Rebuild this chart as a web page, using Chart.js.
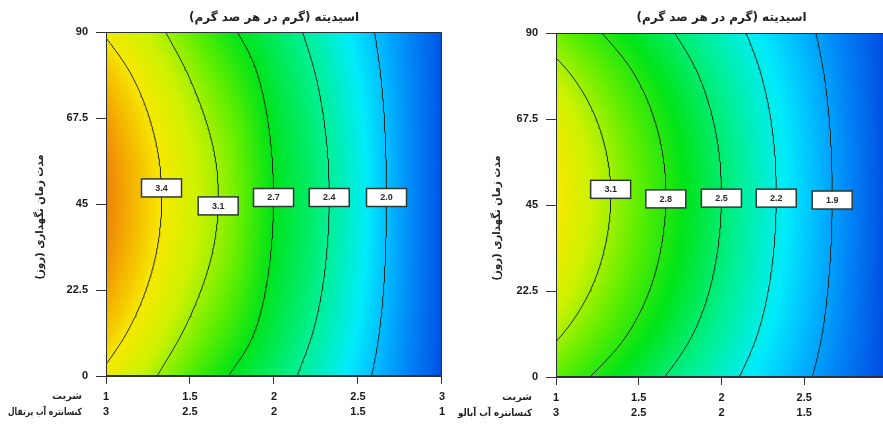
<!DOCTYPE html>
<html lang="fa">
<head>
<meta charset="utf-8">
<script src="https://cdn.jsdelivr.net/npm/chart.js@4/dist/chart.umd.min.js"></script>
<style>
  html, body { margin: 0; padding: 0; background: #fff; overflow: hidden; width: 883px; height: 426px; }
  .panel { position: absolute; top: 0; }
</style>
</head>
<body>
<div class="panel" style="left:0"><canvas id="orange" width="450" height="426" dir="rtl"></canvas></div>
<div class="panel" style="left:450px"><canvas id="cherry" width="445" height="426" dir="rtl"></canvas></div>
<script>
// Surface grid: syrup level (columns) and storage time in days (rows)
const syrupGrid = [1, 1.25, 1.5, 1.75, 2, 2.25, 2.5, 2.75, 3];
const storageDays = [0, 11.25, 22.5, 33.75, 45, 56.25, 67.5, 78.75, 90];

// Acidity (g per 100 g), orange juice concentrate blend
const acidityOrange = [
  [3.360, 3.150, 2.913, 2.682, 2.506, 2.307, 2.074, 1.846, 1.621],
  [3.505, 3.290, 3.057, 2.828, 2.588, 2.382, 2.133, 1.871, 1.625],
  [3.609, 3.389, 3.159, 2.931, 2.647, 2.435, 2.175, 1.889, 1.628],
  [3.674, 3.451, 3.221, 2.995, 2.683, 2.467, 2.200, 1.899, 1.630],
  [3.699, 3.474, 3.245, 3.019, 2.697, 2.480, 2.210, 1.903, 1.631],
  [3.685, 3.461, 3.232, 3.006, 2.689, 2.473, 2.204, 1.901, 1.632],
  [3.626, 3.408, 3.180, 2.951, 2.658, 2.445, 2.182, 1.893, 1.633],
  [3.524, 3.317, 3.090, 2.857, 2.606, 2.398, 2.144, 1.879, 1.634],
  [3.380, 3.190, 2.967, 2.726, 2.534, 2.333, 2.092, 1.861, 1.636]
];

// Acidity (g per 100 g), sour cherry juice concentrate blend
const acidityCherry = [
  [2.936, 2.770, 2.604, 2.438, 2.272, 2.103, 1.933, 1.763, 1.593],
  [3.131, 2.940, 2.749, 2.559, 2.369, 2.175, 1.983, 1.791, 1.597],
  [3.271, 3.063, 2.853, 2.645, 2.438, 2.227, 2.018, 1.810, 1.600],
  [3.359, 3.139, 2.918, 2.699, 2.481, 2.259, 2.040, 1.823, 1.603],
  [3.396, 3.172, 2.946, 2.722, 2.499, 2.272, 2.050, 1.828, 1.605],
  [3.381, 3.158, 2.935, 2.713, 2.492, 2.267, 2.046, 1.826, 1.604],
  [3.307, 3.094, 2.880, 2.668, 2.456, 2.241, 2.028, 1.816, 1.602],
  [3.175, 2.980, 2.784, 2.589, 2.393, 2.194, 1.996, 1.798, 1.599],
  [2.988, 2.818, 2.648, 2.477, 2.304, 2.129, 1.951, 1.773, 1.595]
];

// Contour levels
const levelsOrange = [3.4, 3.1, 2.7, 2.4, 2.0];
const levelsCherry = [3.1, 2.8, 2.5, 2.2, 1.9];

// Tick labels
const syrupTicks = ['1', '1.5', '2', '2.5', '3'];
const concentrateTicks = ['3', '2.5', '2', '1.5', '1'];
const dayTicks = ['0', '22.5', '45', '67.5', '90'];

// Storage day at which each contour value tag sits
const tagDaysOrange = [49.2, 44.5, 46.7, 46.7, 46.7];
const tagDaysCherry = [49.1, 46.6, 46.8, 46.8, 46.3];

// Colour ramp for the shaded surface
const ramp = [
  [1.58, [0, 70, 222]],
  [1.80, [0, 130, 246]],
  [2.00, [0, 192, 255]],
  [2.15, [0, 236, 250]],
  [2.40, [0, 240, 150]],
  [2.70, [0, 228, 24]],
  [2.95, [96, 238, 0]],
  [3.20, [204, 242, 0]],
  [3.40, [246, 232, 0]],
  [3.55, [245, 182, 0]],
  [3.72, [238, 122, 10]]
];

function rampColor(v) {
  if (v <= ramp[0][0]) return ramp[0][1];
  for (let i = 0; i < ramp.length - 1; i++) {
    const [a, ca] = ramp[i], [b, cb] = ramp[i + 1];
    if (v <= b) {
      const t = (v - a) / (b - a);
      return [ca[0] + (cb[0] - ca[0]) * t, ca[1] + (cb[1] - ca[1]) * t, ca[2] + (cb[2] - ca[2]) * t];
    }
  }
  return ramp[ramp.length - 1][1];
}

// Catmull-Rom evaluation of node values on an evenly spaced axis
function smoothAt(axis, vals, v) {
  const n = vals.length;
  const u = Math.max(0, Math.min(n - 1, (v - axis[0]) / (axis[1] - axis[0])));
  let i = Math.floor(u);
  if (i > n - 2) i = n - 2;
  const t = u - i;
  const p1 = vals[i], p2 = vals[i + 1];
  const p0 = i > 0 ? vals[i - 1] : 2 * p1 - p2;
  const p3 = i + 2 < n ? vals[i + 2] : 2 * p2 - p1;
  return 0.5 * (2 * p1 + (p2 - p0) * t + (2 * p0 - 5 * p1 + 4 * p2 - p3) * t * t + (3 * p1 - p0 - 3 * p2 + p3) * t * t * t);
}

// Surface values of every column at a given storage day
function rowAt(grid, day) {
  return syrupGrid.map((_, c) => smoothAt(storageDays, grid.map(r => r[c]), day));
}

function crossingAt(row, level) {
  for (let c = 0; c < row.length - 1; c++) {
    if ((row[c] - level) * (row[c + 1] - level) <= 0 && row[c] !== row[c + 1]) {
      let lo = syrupGrid[c], hi = syrupGrid[c + 1];
      const sLo = Math.sign(row[c] - level);
      for (let k = 0; k < 30; k++) {
        const mid = (lo + hi) / 2;
        if (Math.sign(smoothAt(syrupGrid, row, mid) - level) === sLo) lo = mid; else hi = mid;
      }
      return (lo + hi) / 2;
    }
  }
  return null;
}

// Iso-line of the grid surface, walked along storage days
function traceContour(grid, level) {
  const pts = [];
  let prevEdge = null, prevDay = null;
  for (let k = 0; k <= 180; k++) {
    const day = k * 0.5;
    const row = rowAt(grid, day);
    const edge = row[0];
    if (prevEdge !== null && (prevEdge - level) * (edge - level) < 0) {
      const t = (prevEdge - level) / (prevEdge - edge);
      pts.push({ x: syrupGrid[0], y: prevDay + t * (day - prevDay) });
    }
    const sx = crossingAt(row, level);
    if (sx !== null) pts.push({ x: sx, y: day });
    prevEdge = edge; prevDay = day;
  }
  return pts;
}

const tickFont = { family: 'Liberation Sans', size: 11, weight: 'bold' };
const persianFont = 'DejaVu Sans';

function surfacePlugin(grid, levels, tagDays, caption, yTitleX) {
  return {
    id: 'surface',
    beforeDatasetsDraw(chart) {
      const { ctx, chartArea: a, scales: { x, y } } = chart;
      const w = Math.round(a.right - a.left), h = Math.round(a.bottom - a.top);
      const off = document.createElement('canvas');
      off.width = w; off.height = h;
      const octx = off.getContext('2d');
      const img = octx.createImageData(w, h);
      for (let j = 0; j < h; j++) {
        const row = rowAt(grid, y.getValueForPixel(a.top + j + 0.5));
        for (let i = 0; i < w; i++) {
          const c = rampColor(smoothAt(syrupGrid, row, x.getValueForPixel(a.left + i + 0.5)));
          const k = (j * w + i) * 4;
          img.data[k] = c[0]; img.data[k + 1] = c[1]; img.data[k + 2] = c[2]; img.data[k + 3] = 255;
        }
      }
      octx.putImageData(img, 0, 0);
      ctx.drawImage(off, a.left, a.top);
    },
    afterDatasetsDraw(chart) {
      const { ctx, chartArea: a, scales: { x, y } } = chart;
      ctx.save();
      // plot frame
      ctx.strokeStyle = '#2a2f3a';
      ctx.lineWidth = 1;
      ctx.strokeRect(a.left + 0.5, a.top + 0.5, a.right - a.left - 1, a.bottom - a.top - 1);
      // contour value tags
      ctx.font = 'bold 9px "Liberation Sans"';
      ctx.textAlign = 'center';
      ctx.textBaseline = 'middle';
      levels.forEach((L, i) => {
        const sx = crossingAt(rowAt(grid, tagDays[i]), L);
        if (sx === null) return;
        const px = x.getPixelForValue(sx), py = y.getPixelForValue(tagDays[i]);
        const bw = 40, bh = 18;
        ctx.fillStyle = '#ffffff';
        ctx.fillRect(px - bw / 2, py - bh / 2, bw, bh);
        ctx.strokeStyle = '#2c3a30';
        ctx.lineWidth = 1.5;
        ctx.strokeRect(px - bw / 2, py - bh / 2, bw, bh);
        ctx.fillStyle = '#2a2a2a';
        ctx.fillText(L.toFixed(1), px, py + 0.5);
      });
      ctx.restore();
    },
    afterDraw(chart) {
      const { ctx, chartArea: a } = chart;
      ctx.save();
      ctx.direction = 'rtl';
      ctx.fillStyle = '#222';
      // vertical axis title
      ctx.font = 'bold 11px "' + persianFont + '"';
      ctx.translate(yTitleX, (a.top + a.bottom) / 2 + 13);
      ctx.rotate(-Math.PI / 2);
      ctx.textAlign = 'center';
      ctx.textBaseline = 'middle';
      ctx.fillText('مدت زمان نگهداری (روز)', 0, 0, 125);
      ctx.restore();
      // captions of the two tick rows
      ctx.save();
      ctx.direction = 'rtl';
      ctx.fillStyle = '#222';
      ctx.font = 'bold 10px "' + persianFont + '"';
      ctx.textAlign = 'right';
      ctx.textBaseline = 'middle';
      const rowTop = a.bottom + 8 + 5;
      ctx.fillText('شربت', 82, rowTop + 7.7, 30);
      ctx.fillText(caption, 82, rowTop + 7.7 + 15.4, 74);
      ctx.restore();
    }
  };
}

function buildChart(id, grid, levels, tagDays, caption, o) {
  return new Chart(document.getElementById(id), {
    type: 'scatter',
    data: {
      datasets: levels.map(L => ({
        label: L.toFixed(1),
        data: traceContour(grid, L),
        showLine: true,
        borderColor: '#1c261e',
        borderWidth: 1,
        pointRadius: 0,
        pointHoverRadius: 0,
        tension: 0,
        fill: false
      }))
    },
    options: {
      responsive: false,
      animation: false,
      events: [],
      layout: { padding: { left: 0, right: 7, top: 0, bottom: 0 } },
      plugins: {
        legend: { display: false },
        tooltip: { enabled: false },
        title: {
          display: true,
          fullSize: false,
          text: 'اسیدیته (گرم در هر صد گرم)',
          color: '#222',
          font: { family: persianFont, size: 12, weight: 'bold', lineHeight: 1.2 },
          padding: { top: 11, bottom: o.titleGap }
        }
      },
      scales: {
        x: {
          type: 'linear',
          min: 1, max: 3,
          afterBuildTicks: s => { s.ticks = syrupTicks.map(v => ({ value: parseFloat(v) })); },
          afterFit: s => { s.height = o.xHeight; },
          ticks: {
            callback: (v, i) => [syrupTicks[i], concentrateTicks[i]],
            font: Object.assign({ lineHeight: 1.4 }, tickFont),
            color: '#1a1a1a',
            padding: 5,
            maxRotation: 0,
            autoSkip: false
          },
          grid: { drawOnChartArea: false, tickLength: 8, color: '#333' },
          border: { color: '#333' }
        },
        y: {
          type: 'linear',
          min: 0, max: 90,
          afterBuildTicks: s => { s.ticks = dayTicks.map(v => ({ value: parseFloat(v) })); },
          afterFit: s => { s.width = 106; },
          ticks: {
            callback: (v, i) => dayTicks[i],
            font: tickFont,
            color: '#1a1a1a',
            padding: 8,
            autoSkip: false
          },
          grid: { drawOnChartArea: false, tickLength: 10, color: '#333' },
          border: { color: '#333' }
        }
      }
    },
    plugins: [surfacePlugin(grid, levels, tagDays, caption, o.yTitleX)]
  });
}

buildChart('orange', acidityOrange, levelsOrange, tagDaysOrange, 'کنسانتره آب پرتقال',
  { titleGap: 6.6, xHeight: 50, yTitleX: 40 });
buildChart('cherry', acidityCherry, levelsCherry, tagDaysCherry, 'کنسانتره آب آبالو',
  { titleGap: 7.6, xHeight: 49, yTitleX: 47 });
</script>
</body>
</html>
